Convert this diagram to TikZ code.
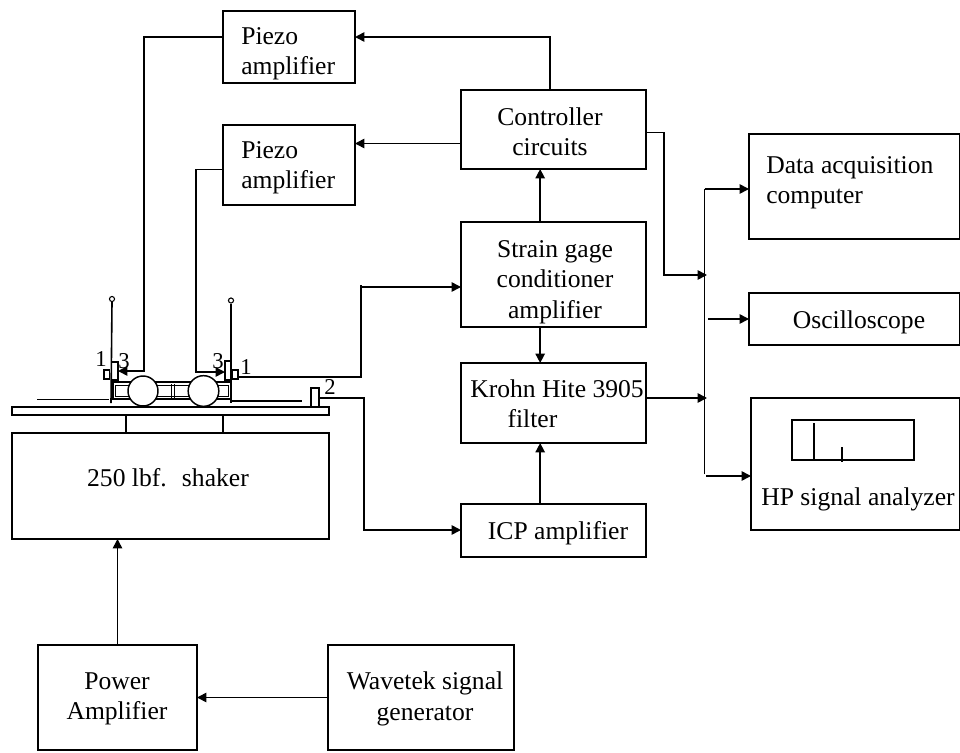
\documentclass[tikz,border=0pt]{standalone}
\usepackage{fontspec}
\setmainfont{Liberation Serif}
\usetikzlibrary{arrows.meta}
\tikzset{
  px/.style={x=0.75pt,y=-0.75pt},
  box/.style={draw=black,line width=1.2pt,fill=none,inner sep=0pt,outer sep=0pt},
  thin part/.style={draw=black,line width=0.9pt,inner sep=0pt,outer sep=0pt},
  wire/.style={draw=black,line width=1.2pt},
  arrowed/.style={wire,-{Triangle[length=7pt,width=7pt]}},
  lab/.style={font=\fontsize{19.2}{22.8}\selectfont,align=center,inner sep=0pt,text=black},
  labl/.style={font=\fontsize{19.2}{22.8}\selectfont,align=left,inner sep=0pt,anchor=west,text=black},
  num/.style={font=\fontsize{17}{18}\selectfont,inner sep=0pt,text=black},
}
% name, x1, y1, x2, y2 (pixels of the reference)
\newcommand{\pxbox}[6][box]{%
  \node[#1,minimum width={(#5-#3)*0.75pt},minimum height={(#6-#4)*0.75pt}] (#2) at ({(#3+#5)/2},{(#4+#6)/2}) {};}
\begin{document}
\begin{tikzpicture}[px]
\useasboundingbox (0,0) rectangle (960,753);
% boxes
\pxbox{pza}{223}{11}{355}{83}
\pxbox{pzb}{223}{125}{355}{205}
\pxbox{ctrl}{461}{90}{646}{169}
\pxbox{strain}{461}{222}{646}{327}
\pxbox{krohn}{461}{363}{646}{443}
\pxbox{icp}{461}{504}{646}{557}
\pxbox{daq}{749}{134}{960}{239}
\pxbox{osc}{749}{293}{960}{345}
\pxbox{hp}{751}{398}{960}{530}
\pxbox{screen}{792}{420}{914}{460}
\pxbox{shaker}{12}{433}{329}{539}
\pxbox{plate}{12}{407}{329}{415}
\pxbox{power}{38}{645}{197}{750}
\pxbox{wave}{328}{645}{514}{750}
% labels
\node[labl] (tpza) at (241,54) {Piezo\\amplifier};
\node[labl] (tpzb) at (241,168) {Piezo\\amplifier};
\node[lab] (tctrl) at (550,132) {Controller\\circuits};
\node[lab] (tstrain) at (555,282) {Strain gage\\conditioner\\amplifier};
\node[labl] (tkrohn) at (470,404) {Krohn Hite 3905\\\hspace*{28pt}filter};
\node[lab] (ticp) at (558,533) {ICP amplifier};
\node[labl] (tdaq) at (766,183) {Data acquisition\\computer};
\node[lab] (tosc) at (859,322) {Oscilloscope};
\node[lab] (thp) at (858,499) {HP signal analyzer};
\node[lab] (tshaker) at (168,478) {250 lbf.\hspace{5pt} shaker};
\node[lab] (tpower) at (117,699) {Power\\Amplifier};
\node[lab] (twave) at (425,699) {Wavetek signal\\generator};
% screen traces
\coordinate (sa) at (814,423);
\coordinate (sb) at (842,447);
\draw[wire] (sa) -- (sa |- screen.south);
\draw[wire] (sb) -- ++(0,15);
% supports under the plate
\draw[wire,line width=0.9pt] (126,415) -- (126,433);
\draw[wire,line width=0.9pt] (223,415) -- (223,433);
% rails
\coordinate (ra) at (37,399.5); \coordinate (rb) at (109,399.5);
\coordinate (rc) at (232,401); \coordinate (rd) at (302,401);
\draw[wire] (ra) -- (rb);
\draw[wire] (rc) -- (rd);
% cart
\pxbox[thin part]{cartout}{113}{382}{231}{399}
\pxbox[thin part]{cartin}{115.5}{385.5}{228.5}{396.5}
\draw[wire,line width=0.7pt] (171,384) -- (171,398) (174,384) -- (174,398);
\node[draw=black,fill=white,line width=1.1pt,circle,minimum size=22.5pt,inner sep=0pt] (wa) at (143,391) {};
\node[draw=black,fill=white,line width=1.1pt,circle,minimum size=23pt,inner sep=0pt] (wb) at (203.5,391) {};
% pendulum beams
\node[draw=black,line width=0.8pt,circle,minimum size=3.8pt,inner sep=0pt] (tipa) at (112,299) {};
\node[draw=black,line width=0.8pt,circle,minimum size=3.8pt,inner sep=0pt] (tipb) at (231,300.5) {};
\draw[wire] (tipa.south) -- ++(-1,101);
\draw[wire] (tipb.south) -- ++(0,99);
% piezo patches and gages
\pxbox[thin part]{pa}{111.5}{362}{118}{380}
\pxbox[thin part]{pb}{225}{361}{231}{380}
\pxbox[box]{ga}{104}{370}{109.5}{379}
\pxbox[box]{gb}{232}{370}{238}{379}
\pxbox[thin part]{acc}{311}{388}{319}{407}
% numbers
\node[num] (n1a) at (101,359) {1};
\node[num] (n3a) at (124,361) {3};
\node[num] (n3b) at (218,361) {3};
\node[num] (n1b) at (246,367) {1};
\node[num] (n2) at (330,387) {2};
% connectors
\draw[arrowed] ([yshift=7.5pt]pza.west) -| (144,371) -- (pa.east |- 0,371);
\draw[arrowed] ([yshift=-3.5pt]pzb.west) -| (196,372) -- (pb.west |- 0,372);
\draw[arrowed] ([xshift=-2.6pt]ctrl.north) |- ([yshift=7.5pt]pza.east);
\draw[arrowed] ([yshift=-10.5pt]ctrl.west) -- ([yshift=-10.5pt,xshift=-79.5pt]ctrl.west);
\draw[arrowed] ([xshift=-10pt]strain.north) -- ([xshift=-10pt]ctrl.south);
\draw[arrowed] ([xshift=-10pt]strain.south) -- ([xshift=-10pt]krohn.north);
\draw[arrowed] ([xshift=-10pt]icp.north) -- ([xshift=-10pt]krohn.south);
\coordinate (sg) at (361,377);
\coordinate (sj) at (361,285);
\draw[wire] (gb.east |- sg) -- (sg) -- (sj);
\draw[arrowed] (361,287) -- (strain.west |- 0,287);
\draw[arrowed] (acc.east |- 0,398) -| (364,530) -- (icp.west |- 0,530);
% outputs
\coordinate (busa) at (704.5,189);
\coordinate (busb) at (704.5,474);
\coordinate (ja) at (707,275);
\coordinate (jb) at (707,398);
\coordinate (oa) at (708,319);
\coordinate (ha) at (706,476);
\draw[wire] (busb) -- (busa);
\draw[arrowed] (busa) -- (daq.west |- busa);
\draw[arrowed] ([yshift=-2.2pt]ctrl.east) -| (664,275) -- (ja);
\draw[arrowed] (krohn.east |- jb) -- (jb);
\draw[arrowed] (oa) -- (osc.west |- oa);
\draw[arrowed] (ha) -- (hp.west |- ha);
\draw[arrowed] (power.north) -- (power.north |- shaker.south);
\draw[arrowed] (wave.west) -- (power.east);
\end{tikzpicture}
\end{document}
